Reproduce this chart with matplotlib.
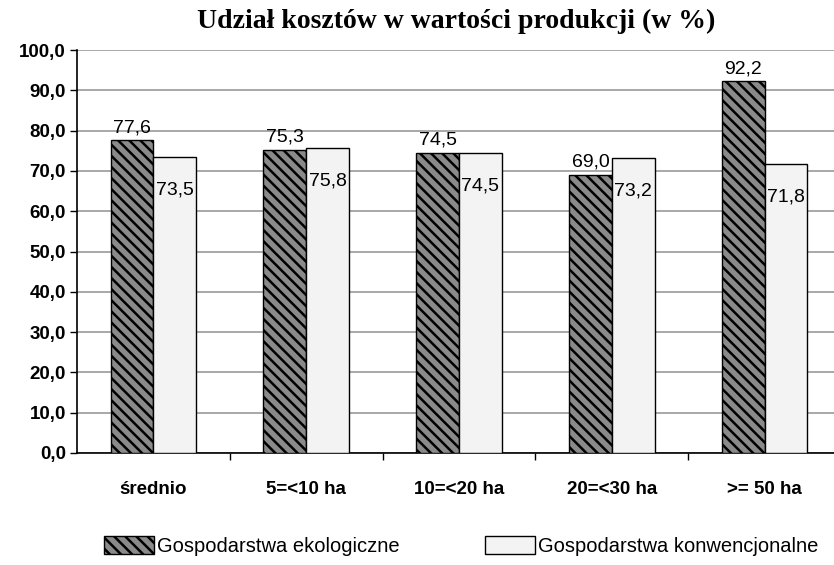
import numpy as np
import matplotlib; matplotlib.use("Agg")
import matplotlib.pyplot as plt
from matplotlib.patches import Patch

# data
categories = ["średnio", "5=<10 ha", "10=<20 ha", "20=<30 ha", ">= 50 ha"]
eko = [77.6, 75.3, 74.5, 69.0, 92.2]
konw = [73.5, 75.8, 74.5, 73.2, 71.8]
eko_lbl = ["77,6", "75,3", "74,5", "69,0", "92,2"]
konw_lbl = ["73,5", "75,8", "74,5", "73,2", "71,8"]
yticks = np.arange(0, 101, 10)

plt.rcParams["font.family"] = ["Liberation Sans", "DejaVu Sans"]
plt.rcParams["hatch.linewidth"] = 1.8
DARK, LIGHT = "#8a8a8a", "#f3f3f3"

fig = plt.figure(figsize=(8.34, 5.65), dpi=100)
ax = fig.add_axes([77/834, 112/565, (841-77)/834, 403/565])

x = np.arange(len(categories)); w = 0.28
ax.bar(x - w/2, eko, w, color=DARK, edgecolor="black", hatch="\\\\\\", lw=1.0, zorder=3)
ax.bar(x + w/2, konw, w, color=LIGHT, edgecolor="black", lw=1.0, zorder=3)
for i in range(len(x)):
    ax.annotate(eko_lbl[i], (x[i] - w/2, eko[i]), xytext=(0, 3), textcoords="offset points",
                ha="center", va="bottom", fontsize=14, zorder=4)
    ax.annotate(konw_lbl[i], (x[i] + w/2, konw[i]), xytext=(0, -24), textcoords="offset points",
                ha="center", va="center", fontsize=14, zorder=4)

ax.set_xlim(-0.5, len(x) - 0.5); ax.set_ylim(0, 100)
ax.set_yticks(yticks)
ax.set_yticklabels([f"{v:.1f}".replace(".", ",") for v in yticks], fontsize=13.5, fontweight="bold")
ax.set_xticks(x)
ax.set_xticklabels(categories, fontsize=13.5, fontweight="bold")
ax.set_xticks(x[:-1] + 0.5, minor=True)
ax.tick_params(axis="x", which="major", length=0, pad=20)
ax.tick_params(axis="x", which="minor", length=5, width=1, direction="out")
ax.tick_params(axis="y", length=5, width=1, pad=3)
ax.yaxis.grid(True, color="#9a9a9a", lw=1.2, zorder=0)
for s in ("top", "right"): ax.spines[s].set_visible(False)
ax.spines["left"].set_linewidth(1.2); ax.spines["bottom"].set_linewidth(1.2)

fig.text(0.547, 0.962, "Udział kosztów w wartości produkcji (w %)", ha="center", va="center",
         fontsize=20, fontweight="bold", family=["Liberation Serif", "DejaVu Serif"])

h = [Patch(facecolor=DARK, edgecolor="black", hatch="\\\\\\", label="Gospodarstwa ekologiczne"),
     Patch(facecolor=LIGHT, edgecolor="black", label="Gospodarstwa konwencjonalne")]
fig.legend(handles=h, loc="center", bbox_to_anchor=(0.553, 0.033), ncol=2, frameon=False,
           fontsize=14.5, columnspacing=4.2, handlelength=2.5, handleheight=1.0, handletextpad=0.15,
           borderpad=0)

fig.savefig("out.png", dpi=100)
